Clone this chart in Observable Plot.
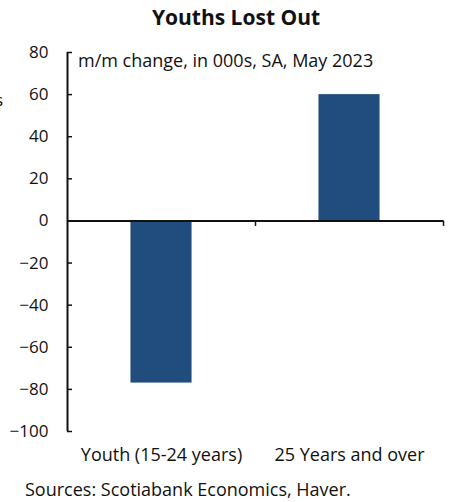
<!DOCTYPE html>
<html>
<head>
<meta charset="utf-8">
<script src="https://cdn.jsdelivr.net/npm/d3@7"></script>
<script src="https://cdn.jsdelivr.net/npm/@observablehq/plot@0.6"></script>
<style>
  html, body { margin: 0; padding: 0; background: #fff; }
  body { width: 453px; height: 502px; position: relative; overflow: hidden; font-family: "Open Sans", Lato, sans-serif; color: #111; }
  #title { position: absolute; left: 0; top: 3px; width: 472px; text-align: center; font-weight: 700; font-size: 21px; }
  #stray { position: absolute; left: -5px; top: 88px; font-size: 17px; }
  #chart { position: absolute; left: 0; top: 40px; }
  #subtitle { position: absolute; left: 78px; top: 48px; font-size: 18px; }
  #caption { position: absolute; left: 25px; top: 477px; font-size: 18px; }
</style>
</head>
<body>
<div id="title">Youths Lost Out</div>
<div id="stray">s</div>
<div id="chart"></div>
<div id="subtitle">m/m change, in 000s, SA, May 2023</div>
<div id="caption">Sources: Scotiabank Economics, Haver.</div>
<script>
const categories = ["Youth (15-24 years)", "25 Years and over"];
const values = [-77, 60];
const yTicks = [-100, -80, -60, -40, -20, 0, 20, 40, 60, 80];

const data = categories.map((c, i) => ({category: c, value: values[i]}));

const W = 453, H = 430, mL = 67, mR = 10, mT = 12, mB = 39;
const halfBand = (W - mL - mR) / categories.length / 2;
const barInset = halfBand * 0.675;

const chart = Plot.plot({
  width: W,
  height: H,
  marginLeft: mL,
  marginRight: mR,
  marginTop: mT,
  marginBottom: mB,
  style: {fontFamily: "'Open Sans', Lato, sans-serif", fontSize: "17px", color: "#111", background: "transparent"},
  x: {domain: categories, padding: 0, label: null},
  y: {domain: [-100, 80], label: null},
  marks: [
    Plot.barY(data, {x: "category", y: "value", fill: "#214c7e", insetLeft: barInset, insetRight: barInset}),
    Plot.axisY({ticks: yTicks, tickSize: 0, tickPadding: 19, label: null, fontSize: 17}),
    Plot.axisY({ticks: yTicks, tickSize: -5, text: null, label: null, strokeWidth: 1.5}),
    Plot.ruleX([categories[0]], {x: d => d, dx: -halfBand, y1: -100, y2: 80, strokeWidth: 2, stroke: "#111"}),
    Plot.ruleY([0], {strokeWidth: 2, stroke: "#111"}),
    Plot.ruleX(categories, {x: d => d, y1: 0, y2: -2.6, dx: halfBand, strokeWidth: 1.5, stroke: "#111"}),
    Plot.axisX({tickSize: 0, tickPadding: 17, label: null, fontSize: 18})
  ]
});
document.getElementById("chart").appendChild(chart);
</script>
</body>
</html>
